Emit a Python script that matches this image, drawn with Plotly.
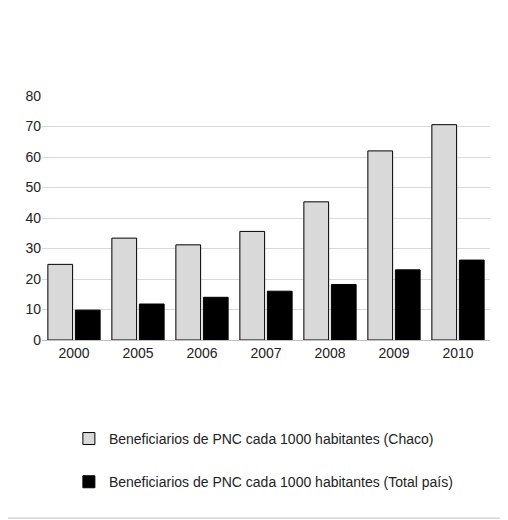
import plotly.graph_objects as go

years = ['2000', '2005', '2006', '2007', '2008', '2009', '2010']
chaco = [24.8, 33.4, 31.2, 35.6, 45.3, 62.0, 70.6]
total_pais = [9.8, 11.8, 14.0, 16.0, 18.2, 23.0, 26.2]

fig = go.Figure()
fig.add_trace(go.Bar(x=years, y=chaco, name='Beneficiarios de PNC cada 1000 habitantes (Chaco)',
                     legendgroup='a',
                     marker=dict(color='#d9d9d9', line=dict(color='black', width=1))))
fig.add_trace(go.Bar(x=years, y=total_pais, name='Beneficiarios de PNC cada 1000 habitantes (Total país)',
                     legendgroup='b',
                     marker=dict(color='black', line=dict(color='black', width=1))))

fig.update_layout(
    width=508, height=520,
    barmode='group', bargap=0.14, bargroupgap=0.1,
    plot_bgcolor='white', paper_bgcolor='white',
    font=dict(family='Liberation Sans, Arial', size=14, color='#222'),
    margin=dict(l=34, r=26, t=88, b=188),
    yaxis=dict(range=[0, 80], dtick=10, showgrid=True, gridcolor='#d9d9d9',
               zeroline=False, ticks='', showline=False, automargin=False),
    xaxis=dict(showline=True, linecolor='#bfbfbf', ticks='', automargin=False),
    legend=dict(orientation='v', x=0.06, y=-0.34, xanchor='left', yanchor='top',
                tracegroupgap=22, font=dict(size=14)),
    shapes=[dict(type='rect', xref='paper', yref='paper', x0=-0.09, x1=1.036, y0=-0.73, y1=1.385,
                 line=dict(color='#bfbfbf', width=1))],
)

fig.write_html('out.html')
